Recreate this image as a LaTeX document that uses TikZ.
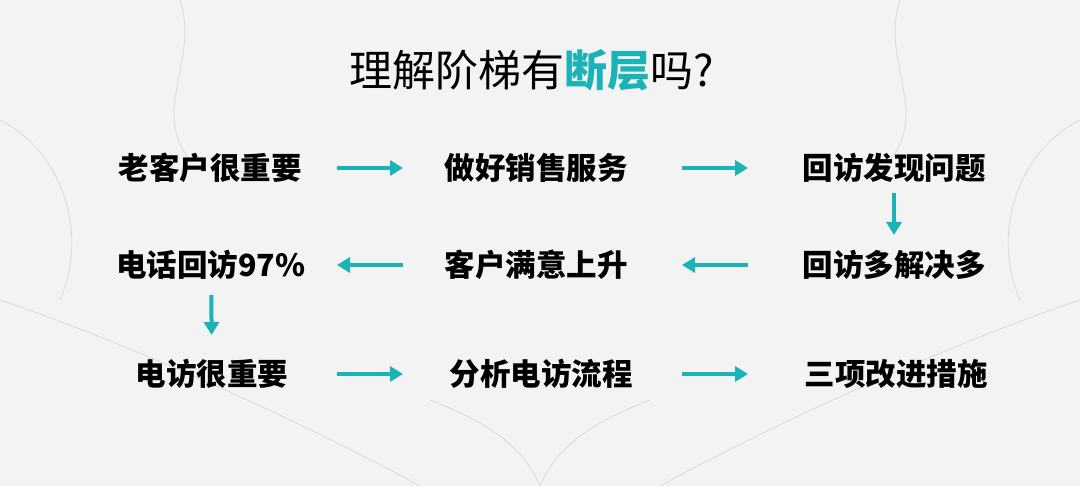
\documentclass[tikz,border=0pt]{standalone}
\usepackage{fontspec}
\setmainfont{Noto Sans CJK SC}
\usetikzlibrary{arrows.meta}
\definecolor{tealmark}{HTML}{1CB3B6}
\definecolor{marble}{HTML}{F3F3F4}
\definecolor{vein}{HTML}{DADADD}
\tikzset{%
  stage/.style = {font=\bfseries\fontsize{30.5}{34}\selectfont,
        text=black, inner sep=0pt},
  flow/.style = {-{Triangle[length=13pt,width=15pt]},
        line width=4pt, draw=tealmark},
  veinline/.style = {draw=vein, line width=0.8pt}
}

\begin{document}
\begin{tikzpicture}[x=1pt,y=-1pt]
% background
\fill[marble] (0,0) rectangle (1080,486);
\useasboundingbox (0,0) rectangle (1080,486);
\draw[veinline] (180,0) .. controls (200,60) and (150,110) .. (190,160);
\draw[veinline] (900,0) .. controls (880,60) and (930,110) .. (890,160);
\draw[veinline] (0,300) .. controls (120,340) and (300,420) .. (420,486);
\draw[veinline] (1080,300) .. controls (960,340) and (780,420) .. (660,486);
\draw[veinline] (540,486) .. controls (520,440) and (480,420) .. (430,400);
\draw[veinline] (540,486) .. controls (560,440) and (600,420) .. (650,400);
\draw[veinline] (0,120) .. controls (60,150) and (90,230) .. (60,300);
\draw[veinline] (1080,120) .. controls (1020,150) and (990,230) .. (1020,300);

% title
\node[inner sep=0pt,font=\fontsize{43}{48}\selectfont] (title) at (532,70)
    {理解阶梯有\textcolor{tealmark}{\bfseries 断层}吗?};

% stages
\node[stage] (s1) at (210,168) {老客户很重要};
\node[stage] (s2) at (536,168) {做好销售服务};
\node[stage] (s3) at (894,168) {回访发现问题};
\node[stage] (s4) at (894,265) {回访多解决多};
\node[stage] (s5) at (536,265) {客户满意上升};
\node[stage] (s6) at (211,265) {电话回访97\%};
\node[stage] (s7) at (212,374) {电访很重要};
\node[stage] (s8) at (541,374) {分析电访流程};
\node[stage] (s9) at (896,374) {三项改进措施};

% arrows
\draw[flow,shorten <=127pt,shorten >=133pt] (s1.center) -- (s2.center);
\draw[flow,shorten <=146pt,shorten >=146pt] (s2.center) -- (s3.center);
\draw[flow,shorten <=25pt,shorten >=30pt] (s3.center) -- (s4.center);
\draw[flow,shorten <=146pt,shorten >=146pt] (s4.center) -- (s5.center);
\draw[flow,shorten <=133pt,shorten >=126pt] (s5.center) -- (s6.center);
\draw[flow,shorten <=30pt,shorten >=39pt] (s6.center) -- (s7.center);
\draw[flow,shorten <=125pt,shorten >=138pt] (s7.center) -- (s8.center);
\draw[flow,shorten <=141pt,shorten >=148pt] (s8.center) -- (s9.center);
\end{tikzpicture}
\end{document}
